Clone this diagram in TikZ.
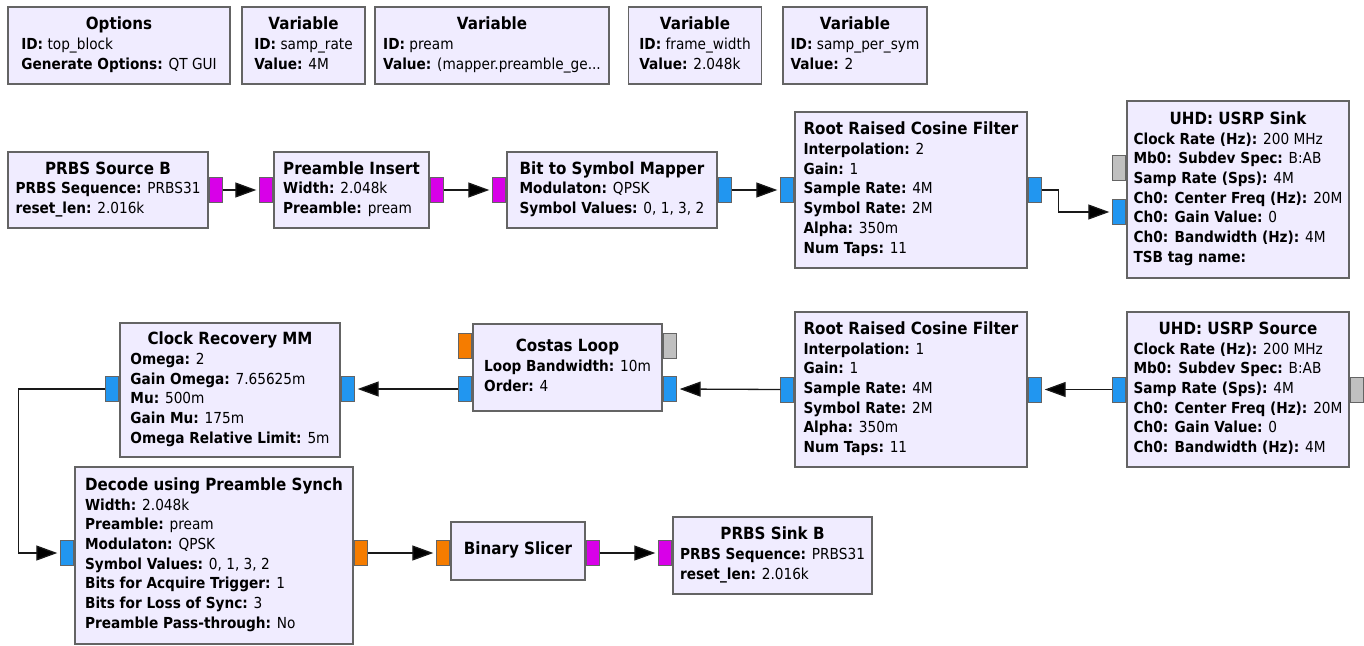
\documentclass[tikz,border=0pt]{standalone}
\usepackage{fontspec}
\setmainfont{DejaVu Sans}[FakeStretch=0.9]
\usetikzlibrary{arrows.meta}
\definecolor{blkfill}{HTML}{F0ECFF}
\definecolor{blkline}{HTML}{646464}
\definecolor{pcplx}{HTML}{2196F0}
\definecolor{pbyte}{HTML}{D800E8}
\definecolor{pflt}{HTML}{F57C00}
\definecolor{pmsg}{HTML}{C0C0C0}
\newcommand{\blkt}[1]{\multicolumn{1}{@{}c@{}}{\fontsize{16.8}{19.7}\selectfont\bfseries #1}}
\newcommand{\prm}[1]{\textbf{#1}}
\newcommand{\rows}[1]{\begin{tabular}{@{}l@{}}#1\end{tabular}}
\tikzset{
  blk/.style={draw=blkline, fill=blkfill, line width=1.4pt, inner sep=0pt,
              font=\fontsize{15.2}{19.7}\selectfont},
  port/.style={draw=blkline, fill=#1, line width=1pt, inner sep=0pt,
               minimum width=13pt, minimum height=25pt},
  wire/.style={draw=black!90, line width=1.3pt, shorten >=3pt,
               -{Triangle[length=21pt, width=15pt, fill=black]}},
}

\begin{document}
\begin{tikzpicture}[x=1pt, y=-1pt]
\useasboundingbox (0,0) rectangle (1364,645);

%% variables along the top
\node[blk, minimum width=222pt, minimum height=77pt] (opts) at (119,45.5)
  {\rows{\blkt{Options}\\ \prm{ID:} top\_block\\ \prm{Generate Options:} QT GUI}};
\node[blk, minimum width=123pt, minimum height=77pt] (vrate) at (303.5,45.5)
  {\rows{\blkt{Variable}\\ \prm{ID:} samp\_rate\\ \prm{Value:} 4M}};
\node[blk, minimum width=234pt, minimum height=77pt] (vpream) at (492,45.5)
  {\rows{\blkt{Variable}\\ \prm{ID:} pream\\ \prm{Value:} (mapper.preamble\_ge...}};
\node[blk, minimum width=133pt, minimum height=77pt] (vwidth) at (695,45.5)
  {\rows{\blkt{Variable}\\ \prm{ID:} frame\_width\\ \prm{Value:} 2.048k}};
\node[blk, minimum width=144pt, minimum height=77pt] (vsps) at (855,45.5)
  {\rows{\blkt{Variable}\\ \prm{ID:} samp\_per\_sym\\ \prm{Value:} 2}};

%% transmit chain
\node[blk, minimum width=200pt, minimum height=76pt] (prbssrc) at (108,190)
  {\rows{\blkt{PRBS Source B}\\ \prm{PRBS Sequence:} PRBS31\\ \prm{reset\_len:} 2.016k}};
\node[blk, minimum width=155pt, minimum height=76pt] (preins) at (351.5,190)
  {\rows{\blkt{Preamble Insert}\\ \prm{Width:} 2.048k\\ \prm{Preamble:} pream}};
\node[blk, minimum width=210pt, minimum height=76pt] (mapper) at (612,190)
  {\rows{\blkt{Bit to Symbol Mapper}\\ \prm{Modulaton:} QPSK\\ \prm{Symbol Values:} 0, 1, 3, 2}};
\node[blk, minimum width=232pt, minimum height=156pt] (rrctx) at (911,190)
  {\rows{\blkt{Root Raised Cosine Filter}\\ \prm{Interpolation:} 2\\ \prm{Gain:} 1\\
   \prm{Sample Rate:} 4M\\ \prm{Symbol Rate:} 2M\\ \prm{Alpha:} 350m\\ \prm{Num Taps:} 11}};
\node[blk, minimum width=222pt, minimum height=177pt] (usrpsink) at (1238,189.5)
  {\rows{\blkt{UHD: USRP Sink}\\ \prm{Clock Rate (Hz):} 200 MHz\\ \prm{Mb0: Subdev Spec:} B:AB\\
   \prm{Samp Rate (Sps):} 4M\\ \prm{Ch0: Center Freq (Hz):} 20M\\ \prm{Ch0: Gain Value:} 0\\
   \prm{Ch0: Bandwidth (Hz):} 4M\\ \prm{TSB tag name:}}};

\node[port=pbyte, anchor=west] (prbssrc-out) at (prbssrc.east) {};
\node[port=pbyte, anchor=east] (preins-in) at (preins.west) {};
\node[port=pbyte, anchor=west] (preins-out) at (preins.east) {};
\node[port=pbyte, anchor=east] (mapper-in) at (mapper.west) {};
\node[port=pcplx, anchor=west] (mapper-out) at (mapper.east) {};
\node[port=pcplx, anchor=east] (rrctx-in) at (rrctx.west) {};
\node[port=pcplx, anchor=west] (rrctx-out) at (rrctx.east) {};
\node[port=pmsg, anchor=east] (usrpsink-cmd) at ([yshift=22pt]usrpsink.west) {};
\node[port=pcplx, anchor=east] (usrpsink-in) at ([yshift=-22.5pt]usrpsink.west) {};

\draw[wire] (prbssrc-out.east) -- (preins-in.west);
\draw[wire] (preins-out.east) -- (mapper-in.west);
\draw[wire] (mapper-out.east) -- (rrctx-in.west);
\draw[wire] (rrctx-out.east) -- ++(17,0) |- (usrpsink-in.west);

%% receive chain, flipped
\node[blk, minimum width=222pt, minimum height=155pt] (usrpsrc) at (1238,389.5)
  {\rows{\blkt{UHD: USRP Source}\\ \prm{Clock Rate (Hz):} 200 MHz\\ \prm{Mb0: Subdev Spec:} B:AB\\
   \prm{Samp Rate (Sps):} 4M\\ \prm{Ch0: Center Freq (Hz):} 20M\\ \prm{Ch0: Gain Value:} 0\\
   \prm{Ch0: Bandwidth (Hz):} 4M}};
\node[blk, minimum width=232pt, minimum height=155pt] (rrcrx) at (911,389.5)
  {\rows{\blkt{Root Raised Cosine Filter}\\ \prm{Interpolation:} 1\\ \prm{Gain:} 1\\
   \prm{Sample Rate:} 4M\\ \prm{Symbol Rate:} 2M\\ \prm{Alpha:} 350m\\ \prm{Num Taps:} 11}};
\node[blk, minimum width=189pt, minimum height=87pt] (costas) at (567.5,367.5)
  {\rows{\blkt{Costas Loop}\\ \prm{Loop Bandwidth:} 10m\\ \prm{Order:} 4}};
\node[blk, minimum width=220pt, minimum height=134pt] (clkrec) at (230,390)
  {\rows{\blkt{Clock Recovery MM}\\ \prm{Omega:} 2\\ \prm{Gain Omega:} 7.65625m\\
   \prm{Mu:} 500m\\ \prm{Gain Mu:} 175m\\ \prm{Omega Relative Limit:} 5m}};

\node[port=pmsg, anchor=west] (usrpsrc-cmd) at (usrpsrc.east) {};
\node[port=pcplx, anchor=east] (usrpsrc-out) at (usrpsrc.west) {};
\node[port=pcplx, anchor=west] (rrcrx-in) at (rrcrx.east) {};
\node[port=pcplx, anchor=east] (rrcrx-out) at (rrcrx.west) {};
\node[port=pmsg, anchor=west] (costas-msg) at ([yshift=21.5pt]costas.east) {};
\node[port=pcplx, anchor=west] (costas-in) at ([yshift=-21.5pt]costas.east) {};
\node[port=pflt, anchor=east] (costas-frq) at ([yshift=21.5pt]costas.west) {};
\node[port=pcplx, anchor=east] (costas-out) at ([yshift=-21.5pt]costas.west) {};
\node[port=pcplx, anchor=west] (clkrec-in) at ([yshift=1pt]clkrec.east) {};
\node[port=pcplx, anchor=east] (clkrec-out) at ([yshift=1pt]clkrec.west) {};

\draw[wire] (usrpsrc-out.west) -- (rrcrx-in.east);
\draw[wire] (rrcrx-out.west) -- (costas-in.east);
\draw[wire] (costas-out.west) -- (clkrec-in.east);

%% decoding and bit error check
\node[blk, minimum width=278pt, minimum height=177pt] (decode) at (214,555.5)
  {\rows{\blkt{Decode using Preamble Synch}\\ \prm{Width:} 2.048k\\ \prm{Preamble:} pream\\
   \prm{Modulaton:} QPSK\\ \prm{Symbol Values:} 0, 1, 3, 2\\ \prm{Bits for Acquire Trigger:} 1\\
   \prm{Bits for Loss of Sync:} 3\\ \prm{Preamble Pass-through:} No}};
\node[blk, minimum width=134pt, minimum height=58pt] (slicer) at (518,551)
  {\rows{\blkt{Binary Slicer}}};
\node[blk, minimum width=199pt, minimum height=77pt] (prbssink) at (772.5,555.5)
  {\rows{\blkt{PRBS Sink B}\\ \prm{PRBS Sequence:} PRBS31\\ \prm{reset\_len:} 2.016k}};

\node[port=pcplx, anchor=east] (decode-in) at ([yshift=2.5pt]decode.west) {};
\node[port=pflt, anchor=west] (decode-out) at ([yshift=2.5pt]decode.east) {};
\node[port=pflt, anchor=east] (slicer-in) at ([yshift=-2pt]slicer.west) {};
\node[port=pbyte, anchor=west] (slicer-out) at ([yshift=-2pt]slicer.east) {};
\node[port=pbyte, anchor=east] (prbssink-in) at ([yshift=2.5pt]prbssink.west) {};

\draw[wire] (clkrec-out.west) -- ++(-87,0) |- (decode-in.west);
\draw[wire] (decode-out.east) -- (slicer-in.west);
\draw[wire] (slicer-out.east) -- (prbssink-in.west);

\end{tikzpicture}
\end{document}
